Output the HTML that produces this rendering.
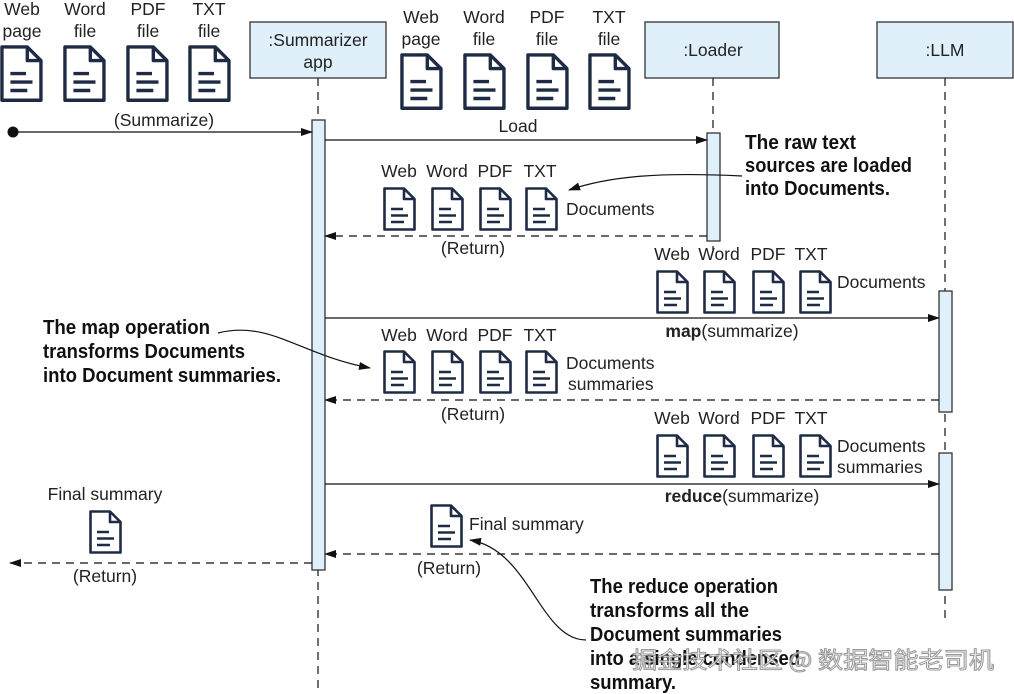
<!DOCTYPE html>
<html><head><meta charset="utf-8"><style>
html,body{margin:0;padding:0;background:#fff;}
svg{display:block;font-family:"Liberation Sans",sans-serif;}
.t{font-size:17.5px;fill:#222;}
.b{font-family:"Liberation Sans",sans-serif;font-weight:bold;font-size:20px;fill:#111;}
</style></head><body>
<svg width="1014" height="694" viewBox="0 0 1014 694" xmlns="http://www.w3.org/2000/svg">
<defs>
<g id="doc" fill="none" stroke="#1f2b45" stroke-width="2.6" stroke-linejoin="round">
<path d="M1.5,1.5 H21 L31.5,12 V42.5 H1.5 Z" fill="#fff"/>
<path d="M21,1.5 V12 H31.5"/>
<path d="M8,22 H20 M8,28.5 H25 M8,35 H21"/>
</g>
<marker id="ah" markerWidth="12" markerHeight="10" refX="11" refY="5" orient="auto" markerUnits="userSpaceOnUse">
<path d="M0,1 L12,5 L0,9 Z" fill="#111"/></marker>
</defs>

<g stroke="#222" stroke-width="1.3" stroke-dasharray="8,6">
<line x1="318" y1="78" x2="318" y2="694"/>
<line x1="713" y1="78" x2="713" y2="250"/>
<line x1="945" y1="78" x2="945" y2="620"/>
</g>
<g fill="#dff0fb" stroke="#333" stroke-width="1.3">
<rect x="250" y="22" width="136" height="56"/>
<rect x="645" y="22" width="134" height="56"/>
<rect x="877" y="22" width="136" height="56"/>
</g>
<text class="t" x="318" y="46" text-anchor="middle">:Summarizer</text>
<text class="t" x="318" y="68" text-anchor="middle">app</text>
<text class="t" x="713" y="56" text-anchor="middle">:Loader</text>
<text class="t" x="945" y="56" text-anchor="middle">:LLM</text>

<g fill="#dff0fb" stroke="#333" stroke-width="1.3">
<rect x="312" y="120" width="13" height="450"/>
<rect x="707" y="133" width="13" height="108"/>
<rect x="939" y="291" width="13" height="121"/>
<rect x="939" y="453" width="13" height="137"/>
</g>

<g class="t" text-anchor="middle">
<text x="22" y="15">Web</text><text x="22" y="37">page</text>
<text x="85" y="15">Word</text><text x="85" y="37">file</text>
<text x="148" y="15">PDF</text><text x="148" y="37">file</text>
<text x="209" y="15">TXT</text><text x="209" y="37">file</text>
</g>
<use href="#doc" transform="translate(0,45) scale(1.3)"/>
<use href="#doc" transform="translate(63,45) scale(1.3)"/>
<use href="#doc" transform="translate(126,45) scale(1.3)"/>
<use href="#doc" transform="translate(188,45) scale(1.3)"/>

<g class="t" text-anchor="middle">
<text x="421" y="23">Web</text><text x="421" y="45">page</text>
<text x="484" y="23">Word</text><text x="484" y="45">file</text>
<text x="547" y="23">PDF</text><text x="547" y="45">file</text>
<text x="609" y="23">TXT</text><text x="609" y="45">file</text>
</g>
<use href="#doc" transform="translate(400,53) scale(1.3)"/>
<use href="#doc" transform="translate(463,53) scale(1.3)"/>
<use href="#doc" transform="translate(526,53) scale(1.3)"/>
<use href="#doc" transform="translate(588,53) scale(1.3)"/>

<circle cx="13" cy="132" r="5.5" fill="#111"/>
<line x1="13" y1="132" x2="312" y2="132" stroke="#111" stroke-width="1.3" marker-end="url(#ah)"/>
<text class="t" x="164" y="126" text-anchor="middle">(Summarize)</text>

<line x1="325" y1="140" x2="707" y2="140" stroke="#111" stroke-width="1.3" marker-end="url(#ah)"/>
<text class="t" x="518" y="132" text-anchor="middle">Load</text>

<g class="t" text-anchor="middle">
<text x="399" y="177">Web</text><text x="447" y="177">Word</text><text x="495" y="177">PDF</text><text x="540" y="177">TXT</text>
</g>
<use href="#doc" x="383" y="187"/><use href="#doc" x="431" y="187"/><use href="#doc" x="479" y="187"/><use href="#doc" x="525" y="187"/>
<text class="t" x="566" y="215">Documents</text>
<line x1="707" y1="236" x2="325" y2="236" stroke="#111" stroke-width="1.3" stroke-dasharray="8,6" marker-end="url(#ah)"/>
<text class="t" x="473" y="254" text-anchor="middle">(Return)</text>

<text class="b" x="745" y="149" textLength="111" lengthAdjust="spacingAndGlyphs">The raw text</text>
<text class="b" x="745" y="172" textLength="167" lengthAdjust="spacingAndGlyphs">sources are loaded</text>
<text class="b" x="745" y="195" textLength="145" lengthAdjust="spacingAndGlyphs">into Documents.</text>
<path d="M742,176 C660,172 610,176 569,190" fill="none" stroke="#111" stroke-width="1.2" marker-end="url(#ah)"/>

<g class="t" text-anchor="middle">
<text x="672" y="260">Web</text><text x="719" y="260">Word</text><text x="768" y="260">PDF</text><text x="811" y="260">TXT</text>
</g>
<use href="#doc" x="656" y="270"/><use href="#doc" x="703" y="270"/><use href="#doc" x="752" y="270"/><use href="#doc" x="799" y="270"/>
<text class="t" x="837" y="288">Documents</text>
<line x1="325" y1="318" x2="939" y2="318" stroke="#111" stroke-width="1.3" marker-end="url(#ah)"/>
<text class="t" x="732" y="337" text-anchor="middle"><tspan font-weight="bold">map</tspan>(summarize)</text>

<text class="b" x="43" y="334" textLength="167" lengthAdjust="spacingAndGlyphs">The map operation</text>
<text class="b" x="43" y="358" textLength="202" lengthAdjust="spacingAndGlyphs">transforms Documents</text>
<text class="b" x="43" y="382" textLength="238" lengthAdjust="spacingAndGlyphs">into Document summaries.</text>
<path d="M218,333 C270,320 300,355 370,368" fill="none" stroke="#111" stroke-width="1.2" marker-end="url(#ah)"/>

<g class="t" text-anchor="middle">
<text x="399" y="341">Web</text><text x="447" y="341">Word</text><text x="495" y="341">PDF</text><text x="540" y="341">TXT</text>
</g>
<use href="#doc" x="383" y="350"/><use href="#doc" x="431" y="350"/><use href="#doc" x="479" y="350"/><use href="#doc" x="525" y="350"/>
<text class="t" x="566" y="369">Documents</text>
<text class="t" x="568" y="390">summaries</text>
<line x1="939" y1="400" x2="325" y2="400" stroke="#111" stroke-width="1.3" stroke-dasharray="8,6" marker-end="url(#ah)"/>
<text class="t" x="473" y="420" text-anchor="middle">(Return)</text>

<g class="t" text-anchor="middle">
<text x="672" y="424">Web</text><text x="719" y="424">Word</text><text x="768" y="424">PDF</text><text x="811" y="424">TXT</text>
</g>
<use href="#doc" x="656" y="434"/><use href="#doc" x="703" y="434"/><use href="#doc" x="752" y="434"/><use href="#doc" x="799" y="434"/>
<text class="t" x="837" y="452">Documents</text>
<text class="t" x="837" y="473">summaries</text>
<line x1="325" y1="484" x2="939" y2="484" stroke="#111" stroke-width="1.3" marker-end="url(#ah)"/>
<text class="t" x="742" y="502" text-anchor="middle"><tspan font-weight="bold">reduce</tspan>(summarize)</text>

<text class="t" x="105" y="500" text-anchor="middle">Final summary</text>
<use href="#doc" x="89" y="510"/>
<line x1="312" y1="563" x2="10" y2="563" stroke="#111" stroke-width="1.3" stroke-dasharray="8,6" marker-end="url(#ah)"/>
<text class="t" x="105" y="582" text-anchor="middle">(Return)</text>

<use href="#doc" x="430" y="504"/>
<text class="t" x="469" y="530">Final summary</text>
<line x1="939" y1="554" x2="325" y2="554" stroke="#111" stroke-width="1.3" stroke-dasharray="8,6" marker-end="url(#ah)"/>
<text class="t" x="449" y="574" text-anchor="middle">(Return)</text>

<text class="b" x="590" y="593" textLength="188" lengthAdjust="spacingAndGlyphs">The reduce operation</text>
<text class="b" x="590" y="617" textLength="159" lengthAdjust="spacingAndGlyphs">transforms all the</text>
<text class="b" x="590" y="641" textLength="192" lengthAdjust="spacingAndGlyphs">Document summaries</text>
<text class="b" x="590" y="665" textLength="210" lengthAdjust="spacingAndGlyphs">into a single condensed</text>
<text class="b" x="590" y="689" textLength="86" lengthAdjust="spacingAndGlyphs">summary.</text>
<path d="M586,640 C540,640 530,550 470,540" fill="none" stroke="#111" stroke-width="1.2" marker-end="url(#ah)"/>

<text x="632" y="668" font-family="'Noto Sans CJK SC',sans-serif" font-size="23" fill="#fff" stroke="#888" stroke-width="1" opacity="0.85" textLength="362" lengthAdjust="spacingAndGlyphs">掘金技术社区 @ 数据智能老司机</text>
</svg>
</body></html>
